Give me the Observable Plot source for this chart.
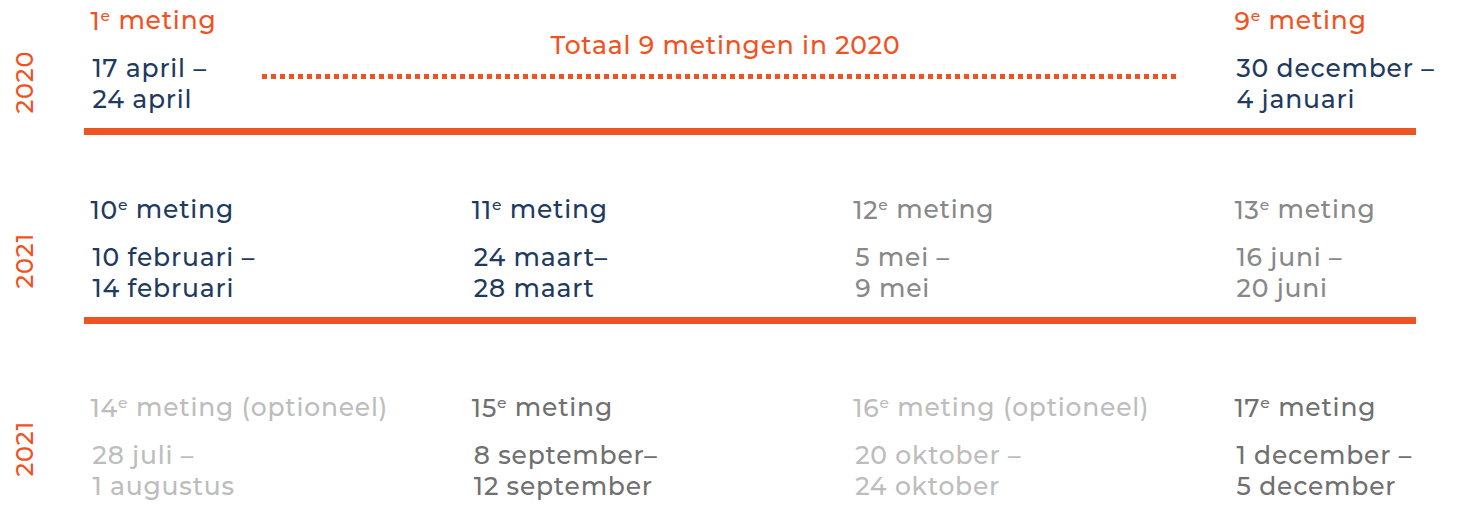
<!DOCTYPE html>
<html><head><meta charset="utf-8">
<script src="https://cdn.jsdelivr.net/npm/d3@7"></script>
<script src="https://cdn.jsdelivr.net/npm/@observablehq/plot@0.6"></script>
<style>html,body{margin:0;padding:0;background:#fff} svg{display:block}</style>
</head><body><div id="chart"></div>
<script>
// ---- data ----
const years = ["2020", "2021", "2021"];
const metingRow = [0, 0, 1, 1, 1, 1, 2, 2, 2, 2];
const metingCol = [0, 3, 0, 1, 2, 3, 0, 1, 2, 3];
const metingNr = [1, 9, 10, 11, 12, 13, 14, 15, 16, 17];
const metingSuffix = ["", "", "", "", "", "", " (optioneel)", "", " (optioneel)", ""];
const dateStart = ["17 april –", "30 december –", "10 februari –", "24 maart–", "5 mei –", "16 juni –", "28 juli –", "8 september–", "20 oktober –", "1 december –"];
const dateEnd = ["24 april", "4 januari", "14 februari", "28 maart", "9 mei", "20 juni", "1 augustus", "12 september", "24 oktober", "5 december"];
const metingStatus = ["2020", "2020", "done", "done", "planned", "planned", "optional", "planned2", "optional", "planned2"];
const summaryText = "Totaal 9 metingen in 2020";
const rowsWithLine = [0, 1];

// ---- styles / layout ----
const ORANGE = "#f05323", NAVY = "#1e3a5f";
const headColor = {"2020": ORANGE, done: NAVY, planned: "#888888", planned2: "#707070", optional: "#bdbdbd"};
const dateColor = {"2020": NAVY, done: NAVY, planned: "#888888", planned2: "#707070", optional: "#bdbdbd"};
const FONT = "Montserrat, 'Open Sans', sans-serif";
const FS = 25;
const FW = 500;
const yearDy = [113, 99, 89];

const items = metingNr.map((n, i) => ({
  row: metingRow[i], col: metingCol[i], nr: n, suffix: metingSuffix[i],
  start: dateStart[i], end: dateEnd[i], status: metingStatus[i]
}));

const marks = [
  Plot.ruleY(rowsWithLine, {y: d => d, dy: 131, stroke: ORANGE, strokeWidth: 7, insetLeft: 84, insetRight: 42}),
  Plot.ruleY([0], {y: d => d, dy: 76, stroke: ORANGE, strokeWidth: 5, strokeDasharray: "5,4", insetLeft: 262, insetRight: 282}),
  Plot.text([summaryText], {text: d => d, frameAnchor: "top", dx: -4, dy: 53, lineAnchor: "bottom", fill: ORANGE, fontSize: FS, fontFamily: FONT, fontWeight: FW}),
  Plot.text(items, {x: "col", y: "row", dy: 29, text: d => d.nr + "e meting" + d.suffix, textAnchor: "start", lineAnchor: "bottom", fill: d => headColor[d.status], fontSize: FS, fontFamily: FONT, fontWeight: FW}),
  Plot.text(items, {x: "col", y: "row", dy: 76, dx: 2, text: "start", textAnchor: "start", lineAnchor: "bottom", fill: d => dateColor[d.status], fontSize: FS, fontFamily: FONT, fontWeight: FW}),
  Plot.text(items, {x: "col", y: "row", dy: 107, dx: 2, text: "end", textAnchor: "start", lineAnchor: "bottom", fill: d => dateColor[d.status], fontSize: FS, fontFamily: FONT, fontWeight: FW}),
  ...years.map((yr, i) => Plot.text([yr], {y: () => i, text: d => d, frameAnchor: "left", dx: 25, dy: yearDy[i], rotate: -90, fill: ORANGE, fontSize: 24, fontFamily: FONT, fontWeight: FW}))
];

const chart = Plot.plot({
  width: 1458, height: 514,
  margin: 0,
  x: {type: "linear", domain: [0, 3], range: [90, 1234], axis: null},
  y: {type: "linear", domain: [0, 1, 2], range: [0, 189, 387], axis: null},
  style: {background: "#fff", overflow: "visible", letterSpacing: "0.8px"},
  marks
});

// superscript "e" after the measurement number
d3.select(chart).selectAll("text").each(function () {
  const t = this.textContent;
  const m = t.match(/^(\d+)e( meting.*)$/);
  if (!m) return;
  const el = d3.select(this);
  el.text(null);
  el.append("tspan").text(m[1]);
  el.append("tspan").attr("font-size", "0.62em").attr("dy", "-0.55em").text("e");
  el.append("tspan").attr("dy", "0.34em").attr("font-size", FS).text(m[2]);
});
document.getElementById("chart").appendChild(chart);
</script>
</body></html>
